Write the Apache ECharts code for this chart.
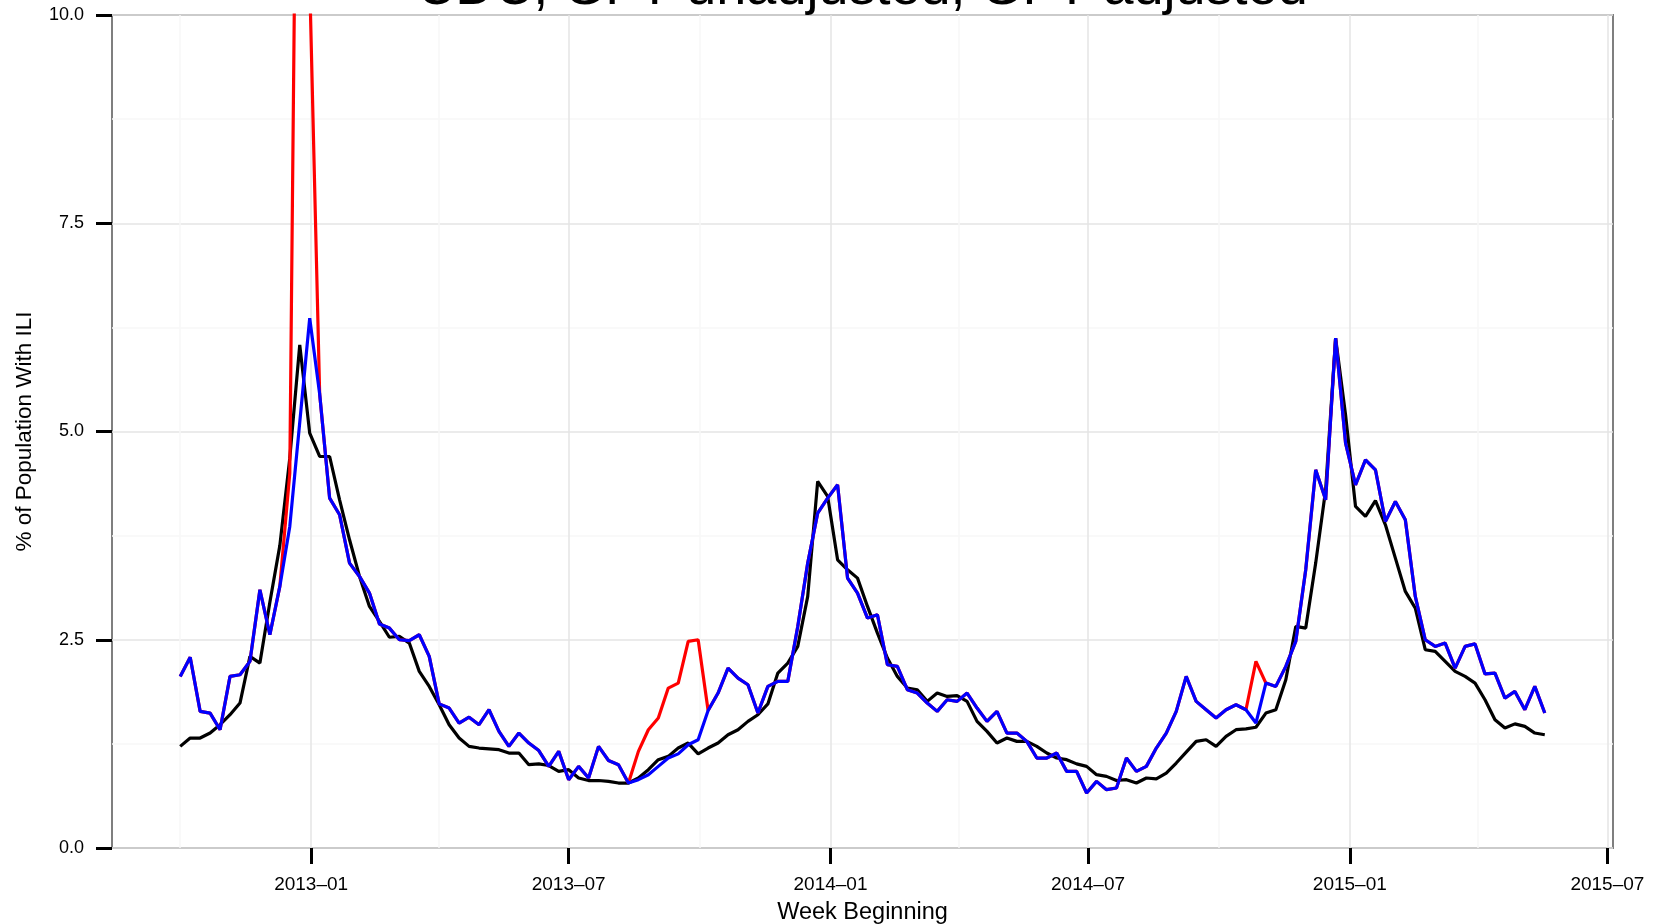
<!DOCTYPE html>
<html><head><meta charset="utf-8">
<script src="https://cdn.jsdelivr.net/npm/echarts@6/dist/echarts.min.js"></script>
<style>html,body{margin:0;padding:0;background:#fff}#c{width:1661px;height:924px}</style>
</head><body><div id="c"></div>
<script>
const titleText = 'CDC, GFT unadjusted, GFT adjusted';
const xAxisTitle = 'Week Beginning';
const yAxisTitle = '% of Population With ILI';
const firstWeek = '2012-10-01';

const cdc = [
1.22,1.32,1.32,1.38,1.48,1.60,1.74,2.30,2.22,2.95,
3.63,4.68,6.04,4.98,4.70,4.70,4.18,3.70,3.26,2.90,
2.72,2.53,2.54,2.46,2.12,1.94,1.72,1.48,1.32,1.22,
1.20,1.19,1.18,1.14,1.14,1.00,1.01,0.99,0.92,0.94,
0.84,0.81,0.81,0.80,0.78,0.78,0.84,0.94,1.06,1.10,
1.20,1.26,1.13,1.20,1.26,1.36,1.42,1.52,1.60,1.73,
2.10,2.22,2.42,3.02,4.40,4.22,3.46,3.34,3.24,2.90,
2.58,2.28,2.06,1.92,1.90,1.76,1.86,1.82,1.83,1.76,
1.52,1.40,1.26,1.32,1.28,1.28,1.22,1.14,1.08,1.06,
1.01,0.98,0.88,0.86,0.81,0.82,0.78,0.84,0.83,0.90,
1.02,1.15,1.28,1.30,1.22,1.34,1.42,1.43,1.45,1.62,
1.66,2.02,2.66,2.64,3.42,4.30,6.12,5.20,4.10,3.98,
4.17,3.88,3.48,3.08,2.88,2.38,2.36,2.24,2.12,2.06,
1.98,1.78,1.54,1.44,1.49,1.46,1.38,1.36
];

const gftUnadjusted = [
2.06,2.29,1.64,1.62,1.42,2.06,2.08,2.24,3.10,2.56,
3.14,4.50,16.8,10.4,5.45,4.20,4.00,3.42,3.26,3.06,
2.69,2.64,2.50,2.49,2.56,2.30,1.73,1.68,1.50,1.57,
1.48,1.66,1.40,1.22,1.38,1.26,1.17,0.98,1.16,0.82,
0.98,0.84,1.22,1.05,1.00,0.78,1.16,1.42,1.56,1.92,
1.98,2.48,2.50,1.65,1.86,2.16,2.04,1.96,1.62,1.94,
2.00,2.00,2.66,3.42,4.02,4.20,4.36,3.24,3.06,2.76,
2.80,2.20,2.18,1.90,1.86,1.74,1.64,1.78,1.76,1.86,
1.68,1.52,1.64,1.38,1.38,1.28,1.08,1.08,1.14,0.92,
0.92,0.66,0.80,0.70,0.72,1.08,0.92,0.98,1.20,1.38,
1.64,2.06,1.76,1.66,1.56,1.66,1.72,1.66,2.24,1.98,
1.94,2.18,2.48,3.34,4.54,4.18,6.12,4.86,4.36,4.66,
4.54,3.92,4.16,3.94,3.02,2.50,2.42,2.46,2.16,2.42,
2.45,2.09,2.10,1.80,1.88,1.66,1.94,1.62
];

const gftAdjusted = [
2.06,2.29,1.64,1.62,1.42,2.06,2.08,2.24,3.10,2.56,
3.14,3.86,5.11,6.36,5.45,4.20,4.00,3.42,3.26,3.06,
2.69,2.64,2.50,2.49,2.56,2.30,1.73,1.68,1.50,1.57,
1.48,1.66,1.40,1.22,1.38,1.26,1.17,0.98,1.16,0.82,
0.98,0.84,1.22,1.05,1.00,0.78,0.82,0.88,0.98,1.08,
1.13,1.24,1.30,1.65,1.86,2.16,2.04,1.96,1.62,1.94,
2.00,2.00,2.66,3.42,4.02,4.20,4.36,3.24,3.06,2.76,
2.80,2.20,2.18,1.90,1.86,1.74,1.64,1.78,1.76,1.86,
1.68,1.52,1.64,1.38,1.38,1.28,1.08,1.08,1.14,0.92,
0.92,0.66,0.80,0.70,0.72,1.08,0.92,0.98,1.20,1.38,
1.64,2.06,1.76,1.66,1.56,1.66,1.72,1.66,1.50,1.98,
1.94,2.18,2.48,3.34,4.54,4.18,6.12,4.86,4.36,4.66,
4.54,3.92,4.16,3.94,3.02,2.50,2.42,2.46,2.16,2.42,
2.45,2.09,2.10,1.80,1.88,1.66,1.94,1.62
];

const xTickDates = ['2013-01-01','2013-07-01','2014-01-01','2014-07-01','2015-01-01','2015-07-01'];
const xMinorDates = ['2012-10-01','2013-04-01','2013-10-01','2014-04-01','2014-10-01','2015-04-01'];
const yMin = 0, yMax = 10, yStep = 2.5;

const DAY = 86400000;
const utc = s => Date.parse(s + 'T00:00:00Z');
const t0 = utc(firstWeek);
const weeks = cdc.map((_, i) => t0 + i * 7 * DAY);
const span = weeks[weeks.length - 1] - weeks[0];
const xMin = weeks[0] - 0.05 * span;
const xMax = weeks[weeks.length - 1] + 0.05 * span;
const pairs = arr => arr.map((v, i) => [weeks[i], v]);

const FONT = 'Liberation Sans';
const fmtDate = v => { const d = new Date(v); return d.getUTCFullYear() + '\u2013' + String(d.getUTCMonth() + 1).padStart(2, '0'); };

const chart = echarts.init(document.getElementById('c'), null, {renderer: 'canvas'});
chart.setOption({
  useUTC: true,
  animation: false,
  backgroundColor: '#ffffff',
  graphic: [{
    type: 'text', x: 862, y: 16, z: 100,
    style: {text: titleText, fontSize: 54, fontFamily: FONT, fill: '#000', textAlign: 'center', textVerticalAlign: 'bottom'}
  }],
  grid: {left: 112, right: 48, top: 15, bottom: 76, show: true, borderColor: '#7f7f7f', borderWidth: 2, backgroundColor: 'transparent', outerBoundsMode: 'none', containLabel: false},
  xAxis: [{
    type: 'value', min: xMin, max: xMax,
    name: xAxisTitle, nameLocation: 'middle', nameGap: 53,
    nameTextStyle: {fontSize: 23.5, fontFamily: FONT, color: '#000'},
    axisLine: {show: false},
    axisTick: {show: true, length: 16, inside: false, lineStyle: {color: '#000', width: 3}, customValues: xTickDates.map(utc)},
    axisLabel: {show: true, margin: 27, fontSize: 19, fontFamily: FONT, color: '#000', formatter: fmtDate, customValues: xTickDates.map(utc), hideOverlap: false},
    splitLine: {show: true, lineStyle: {color: '#e5e5e5', width: 1.5}}
  }, {
    type: 'value', min: xMin, max: xMax, position: 'bottom',
    axisLine: {show: false}, axisLabel: {show: false},
    axisTick: {show: false, customValues: xMinorDates.map(utc)},
    splitLine: {show: true, lineStyle: {color: '#f7f7f7', width: 1.5}}
  }],
  yAxis: {
    type: 'value', min: yMin, max: yMax, interval: yStep,
    name: yAxisTitle, nameLocation: 'middle', nameGap: 76,
    nameTextStyle: {fontSize: 22.5, fontFamily: FONT, color: '#000'},
    axisLine: {show: false},
    axisTick: {show: true, length: 16, inside: false, lineStyle: {color: '#000', width: 3}},
    axisLabel: {show: true, margin: 28, fontSize: 18, fontFamily: FONT, color: '#000', formatter: v => v.toFixed(1)},
    splitLine: {show: true, lineStyle: {color: '#e5e5e5', width: 1.5}},
    minorTick: {show: false, splitNumber: 2},
    minorSplitLine: {show: true, lineStyle: {color: '#f7f7f7', width: 1.5}}
  },
  series: [
    {name: 'CDC', type: 'line', data: pairs(cdc), showSymbol: false, lineStyle: {color: '#000000', width: 3.2}, itemStyle: {color: '#000'}, clip: true, z: 3},
    {name: 'GFT unadjusted', type: 'line', data: pairs(gftUnadjusted), showSymbol: false, lineStyle: {color: '#ff0000', width: 3.2}, itemStyle: {color: '#f00'}, clip: true, z: 4},
    {name: 'GFT adjusted', type: 'line', data: pairs(gftAdjusted), showSymbol: false, lineStyle: {color: '#0000ff', width: 3.2}, itemStyle: {color: '#00f'}, clip: true, z: 5}
  ]
});
</script>
</body></html>
